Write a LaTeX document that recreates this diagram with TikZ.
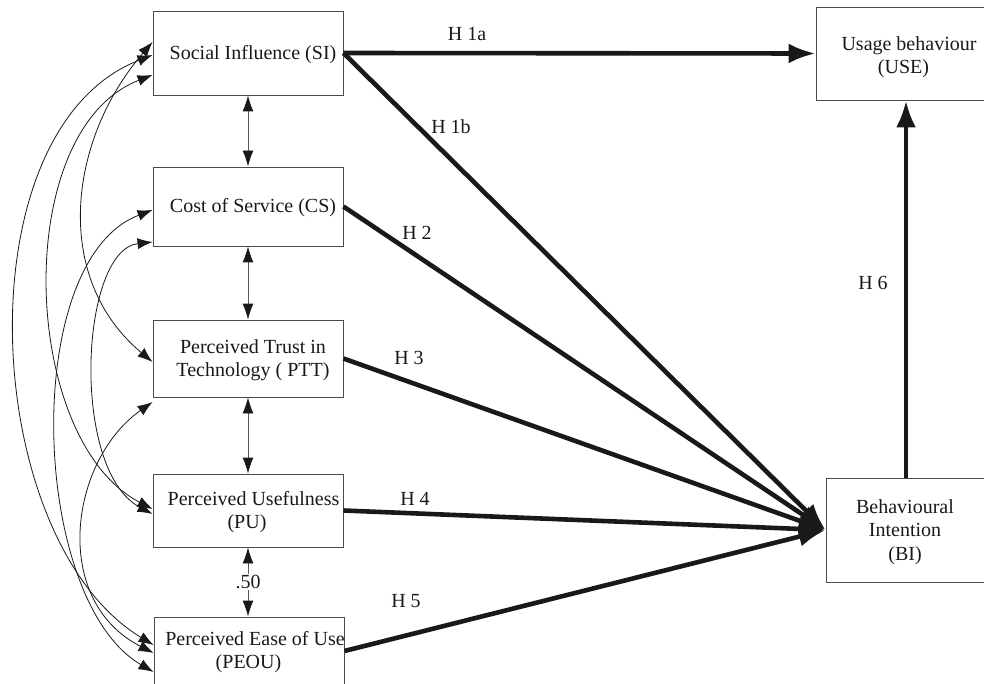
\documentclass[tikz,border=0pt]{standalone}
\usepackage{fontspec}
\setmainfont{Liberation Serif}
\usetikzlibrary{arrows.meta,calc}
\begin{document}
\begin{tikzpicture}[x=1pt,y=-1pt,
  box/.style={draw=black!70, line width=0.9pt, inner sep=0pt},
  txt/.style={font=\fontsize{20}{23.5}\selectfont, align=center, text=black!90, inner sep=0pt},
  hyp/.style={line width=4.6pt, draw=black!90, -{Latex[length=27pt,width=20pt]}},
  hlab/.style={font=\fontsize{20}{23.5}\selectfont, text=black!90, inner sep=1pt},
  corr/.style={draw=black!65, line width=0.9pt, {Latex[length=16pt,width=11pt,color=black!90]}-{Latex[length=16pt,width=11pt,color=black!90]}},
  cov/.style={draw=black!90, line width=0.8pt, {Latex[length=15pt,width=11pt]}-{Latex[length=15pt,width=11pt]}}
]
\useasboundingbox (0,0) rectangle (984,684);
\clip (0,0) rectangle (984,684);

% boxes
\node[box, minimum width=190pt, minimum height=84pt] (SI) at (248,53) {};
\node[box, minimum width=190pt, minimum height=79pt] (CS) at (248,206.5) {};
\node[box, minimum width=190pt, minimum height=77pt] (PTT) at (248,358.5) {};
\node[box, minimum width=190pt, minimum height=73pt] (PU) at (248,510.5) {};
\node[box, minimum width=190pt, minimum height=68pt] (PEOU) at (249,651) {};
\node[box, minimum width=180pt, minimum height=93pt] (USE) at (906,53.5) {};
\node[box, minimum width=160pt, minimum height=104pt] (BI) at (906,530) {};

% texts
\node[txt] (SIt) at (253,55) {Social Influence (SI)};
\node[txt] (CSt) at (253,208) {Cost of Service (CS)};
\node[txt] (PTTt) at (253,360) {Perceived Trust in\\Technology ( PTT)};
\node[txt] (PUt) at (247,512) {\hspace*{13pt}Perceived Usefulness\\(PU)};
\node[txt] (PEOUt) at (248.5,652) {\hspace*{13pt}Perceived Ease of Use\\(PEOU)};
\node[txt] (USEt) at (903.5,57) {\hspace*{11pt}Usage behaviour\\(USE)};
\node[txt] (BIt) at (905,532) {Behavioural\\Intention\\(BI)};

% hypotheses
\draw[hyp] (SI.east) -- (USE.west);
\draw[hyp] (SI.east) -- (BI.west);
\draw[hyp] (CS.east) -- (BI.west);
\draw[hyp] (PTT.east) -- (BI.west);
\draw[hyp] (PU.east) -- (BI.west);
\draw[hyp] (PEOU.east) -- (BI.west);
\draw[hyp] (BI.north) -- (USE.south);

\node[hlab] (h1a) at (467,34) {H 1a};
\node[hlab] (h1b) at (451,127) {H 1b};
\node[hlab] (h2) at (417,233) {H 2};
\node[hlab] (h3) at (409,358) {H 3};
\node[hlab] (h4) at (415,499) {H 4};
\node[hlab] (h5) at (406,601) {H 5};
\node[hlab] (h6) at (873,283) {H 6};

% adjacent correlations
\draw[corr] (SI.south) -- (CS.north);
\draw[corr] (CS.south) -- (PTT.north);
\draw[corr] (PTT.south) -- (PU.north);
\draw[corr] (PU.south) -- (PU.south |- PEOU.north) node[midway, fill=white, inner sep=1pt, font=\fontsize{20}{23.5}\selectfont, text=black!90] (r50) {.50};

% covariance endpoints
\coordinate (a1) at (SI.west |- 0,42);
\coordinate (a2) at (SI.west |- 0,55);
\coordinate (a3) at (SI.west |- 0,75);
\coordinate (b1) at (CS.west |- 0,210);
\coordinate (b2) at (CS.west |- 0,242);
\coordinate (c1) at (PTT.west |- 0,362);
\coordinate (c2) at (PTT.west |- 0,402);
\coordinate (d1) at (PU.west |- 0,509);
\coordinate (d2) at (PU.west |- 0,514);
\coordinate (e1) at (PEOU.west |- 0,645);
\coordinate (e2) at (PEOU.west |- 0,653);
\coordinate (e3) at (PEOU.west |- 0,672);

% covariance curves
\draw[cov] (a1) .. controls (68,140) and (52,278) .. (c1);
\draw[cov] (a3) .. controls (10,130) and (20,440) .. (d1);
\draw[cov] (a2) .. controls (-40,130) and (-20,540) .. (e1);
\draw[cov] (b2) .. controls (80,250) and (70,470) .. (d2);
\draw[cov] (b1) .. controls (20,260) and (30,600) .. (e3);
\draw[cov] (c2) .. controls (70,460) and (50,600) .. (e2);
\end{tikzpicture}
\end{document}
